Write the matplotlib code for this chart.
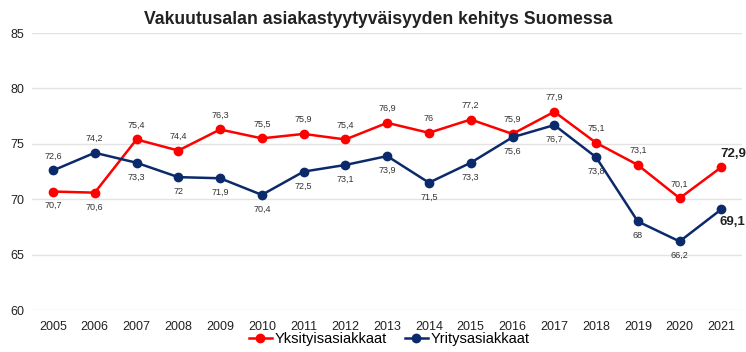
import matplotlib
matplotlib.use("Agg")
import matplotlib.pyplot as plt

plt.rcParams['font.family'] = ['Liberation Sans', 'DejaVu Sans']

years = list(range(2005, 2022))
yksityis = [70.7, 70.6, 75.4, 74.4, 76.3, 75.5, 75.9, 75.4, 76.9, 76.0, 77.2, 75.9, 77.9, 75.1, 73.1, 70.1, 72.9]
yritys = [72.6, 74.2, 73.3, 72.0, 71.9, 70.4, 72.5, 73.1, 73.9, 71.5, 73.3, 75.6, 76.7, 73.8, 68.0, 66.2, 69.1]
# label placement: 1 above, -1 below
yks_pos = [-1, -1] + [1] * 15
yri_pos = [1, 1] + [-1] * 15

red = '#FF0000'
navy = '#0B2A6B'

fig = plt.figure(figsize=(7.46, 3.52), dpi=100)
ax = fig.add_axes([0.043, 0.119, 0.952, 0.787])

ax.plot(years, yksityis, color=red, lw=1.8, marker='o', ms=6, label='Yksityisasiakkaat', zorder=3)
ax.plot(years, yritys, color=navy, lw=1.8, marker='o', ms=6, label='Yritysasiakkaat', zorder=3)

def fmt(v):
    s = ('%.1f' % v).rstrip('0').rstrip('.')
    return s.replace('.', ',')

n = len(years)
for i, (x, v, p) in enumerate(zip(years, yksityis, yks_pos)):
    if i == n - 1:
        ax.annotate(fmt(v), (x, v), xytext=(-1, 5), textcoords='offset points',
                    ha='left', va='bottom', fontsize=9.5, fontweight='bold', color='#222222')
    else:
        ax.annotate(fmt(v), (x, v), xytext=(0, 7 * p), textcoords='offset points',
                    ha='center', va='bottom' if p > 0 else 'top', fontsize=6.5, color='#333333')
for i, (x, v, p) in enumerate(zip(years, yritys, yri_pos)):
    if i == n - 1:
        ax.annotate(fmt(v), (x, v), xytext=(-1, -5), textcoords='offset points',
                    ha='left', va='top', fontsize=9.5, fontweight='bold', color='#222222')
    else:
        ax.annotate(fmt(v), (x, v), xytext=(0, 7 * p), textcoords='offset points',
                    ha='center', va='bottom' if p > 0 else 'top', fontsize=6.5, color='#333333')

ax.set_xlim(2004.5, 2021.5)
ax.set_ylim(60, 85)
ax.set_yticks([60, 65, 70, 75, 80, 85])
ax.set_xticks(years)
ax.grid(axis='y', color='#E3E3E3', lw=1)
ax.set_axisbelow(True)
for s in ax.spines.values():
    s.set_visible(False)
ax.tick_params(axis='both', length=0, labelsize=9, colors='#222222')
ax.tick_params(axis='x', pad=8)
ax.tick_params(axis='y', pad=5.5)

fig.suptitle('Vakuutusalan asiakastyytyväisyyden kehitys Suomessa', x=0.507, y=0.97,
             fontsize=12.7, fontweight='bold', color='#222222')

fig.legend(loc='center', bbox_to_anchor=(0.522, 0.037), ncol=2, frameon=False,
           fontsize=10.5, handlelength=1.6, handletextpad=0.2, columnspacing=1.2, borderpad=0)

fig.savefig('out.png', dpi=100)
